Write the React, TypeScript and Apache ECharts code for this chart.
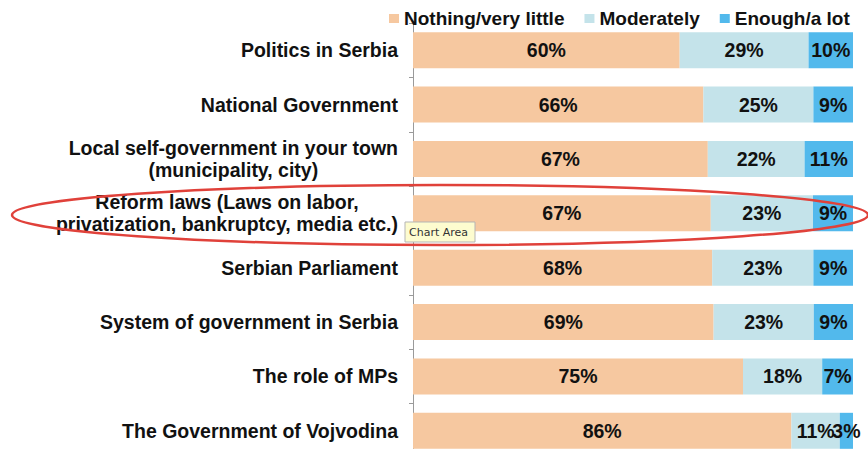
import React, { useEffect, useRef } from "react";
import * as echarts from "echarts";

const categories = [
  "Politics in Serbia",
  "National Government",
  "Local self-government in your town\n(municipality, city)",
  "Reform laws (Laws on labor,\nprivatization, bankruptcy, media etc.)",
  "Serbian Parliament",
  "System of government in Serbia",
  "The role of MPs",
  "The Government of Vojvodina",
];
const seriesNames = ["Nothing/very little", "Moderately", "Enough/a lot"];
const nothingValues = [60, 66, 67, 67, 68, 69, 75, 86];
const moderatelyValues = [29, 25, 22, 23, 23, 23, 18, 11];
const enoughValues = [10, 9, 11, 9, 9, 9, 7, 3];
const colors = ["#f6c8a0", "#c4e3ea", "#52b9ec"];

const FONT = "'Liberation Sans', Arial, Helvetica, sans-serif";
const FS = 19.5;

export default function App() {
  const ref = useRef<HTMLDivElement>(null);
  useEffect(() => {
    if (!ref.current) return;
    const chart = echarts.init(ref.current, null, { renderer: "svg" });
    const raw = [nothingValues, moderatelyValues, enoughValues];
    const totals = categories.map((_, i) => raw.reduce((s, arr) => s + arr[i], 0));
    const series = raw.map((arr, si) => ({
      name: seriesNames[si],
      type: "bar",
      stack: "total",
      barWidth: 36,
      data: arr.map((v, i) => (v / totals[i]) * 100),
      itemStyle: { color: colors[si] },
      label: {
        show: true,
        position: "inside",
        formatter: (p: any) => raw[p.seriesIndex][p.dataIndex] + "%",
        color: "#111",
        fontSize: FS,
        fontWeight: "bold",
        fontFamily: FONT,
      },
      emphasis: { disabled: true },
    }));
    chart.setOption({
      animation: false,
      color: colors,
      legend: {
        left: 389,
        top: 9,
        padding: 0,
        itemWidth: 10,
        itemHeight: 9,
        itemGap: 20,
        icon: "rect",
        selectedMode: false,
        textStyle: { fontSize: 19, fontWeight: "bold", color: "#111", fontFamily: FONT },
        data: seriesNames,
      },
      grid: { left: 413, top: 23, width: 440, height: 435, outerBoundsMode: "none", containLabel: false },
      xAxis: { type: "value", min: 0, max: 100, show: false },
      yAxis: {
        type: "category",
        inverse: true,
        data: categories,
        axisLine: { show: true, lineStyle: { color: "#9a9a9a", width: 1 } },
        axisTick: { show: true, length: 4, lineStyle: { color: "#9a9a9a" } },
        axisLabel: {
          margin: 15,
          formatter: (v: string) =>
            v
              .split("\n")
              .map((l) => "{c|" + l + "}")
              .join("\n"),
          rich: {
            c: {
              align: "center",
              fontSize: FS,
              fontWeight: "bold",
              color: "#111",
              fontFamily: FONT,
              lineHeight: 22,
            },
          },
        },
      },
      series,
      graphic: [
        {
          type: "ellipse",
          z: 100,
          shape: { cx: 440, cy: 215, rx: 428, ry: 30 },
          style: { fill: "none", stroke: "#e0413a", lineWidth: 2.5 },
        },
        {
          type: "group",
          z: 110,
          children: [
            {
              type: "rect",
              shape: { x: 405, y: 222, width: 70, height: 20 },
              style: { fill: "#fdfccf", stroke: "#b5b5b5", lineWidth: 1 },
              z: 110,
            },
            {
              type: "text",
              x: 409,
              y: 232,
              z: 111,
              style: {
                text: "Chart Area",
                fontSize: 11,
                fill: "#333",
                fontFamily: "'DejaVu Sans', 'Noto Sans', sans-serif",
                verticalAlign: "middle",
              },
            },
          ],
        },
      ],
    });
    return () => chart.dispose();
  }, []);
  return (
    <div
      ref={ref}
      style={{ position: "absolute", left: 0, top: 0, width: 868, height: 449 }}
    />
  );
}
